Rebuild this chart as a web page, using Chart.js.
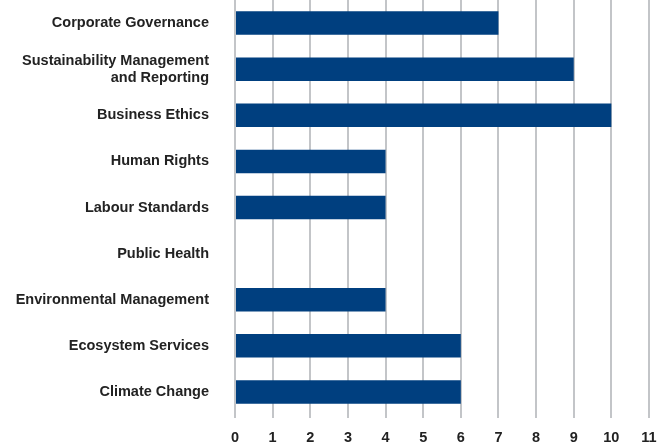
<!DOCTYPE html>
<html>
<head>
<meta charset="utf-8">
<script src="https://cdn.jsdelivr.net/npm/chart.js@4"></script>
<style>
  html, body { margin: 0; padding: 0; background: #fff; }
  #wrap { width: 669px; height: 448px; position: relative; }
</style>
</head>
<body>
<div id="wrap"><canvas id="topics-chart"></canvas></div>
<script>
// Categories (top to bottom) and counts
const categories = [
  'Corporate Governance',
  ['Sustainability Management', 'and Reporting'],
  'Business Ethics',
  'Human Rights',
  'Labour Standards',
  'Public Health',
  'Environmental Management',
  'Ecosystem Services',
  'Climate Change'
];
const counts = [7, 9, 10, 4, 4, 0, 4, 6, 6];
const xTicks = [0, 1, 2, 3, 4, 5, 6, 7, 8, 9, 10, 11];

const labelFont = { family: '"Liberation Sans", Arial, sans-serif', size: 14.5, weight: 'bold', lineHeight: 1.15 };

const ctx = document.getElementById('topics-chart');
new Chart(ctx, {
  type: 'bar',
  data: {
    labels: categories,
    datasets: [{
      data: counts,
      backgroundColor: '#003f7f',
      borderWidth: 0,
      barPercentage: 0.51,
      categoryPercentage: 1
    }]
  },
  options: {
    indexAxis: 'y',
    responsive: true,
    maintainAspectRatio: false,
    animation: false,
    layout: { padding: { top: 0, right: 20, bottom: 0, left: 0 } },
    plugins: {
      legend: { display: false },
      tooltip: { enabled: false }
    },
    scales: {
      x: {
        min: xTicks[0],
        max: xTicks[xTicks.length - 1],
        afterBuildTicks: (scale) => {
          scale.ticks = xTicks.map(v => ({ value: v }));
        },
        grid: { color: '#c3c5c8', lineWidth: 2, tickLength: 3, drawTicks: true },
        border: { display: false },
        ticks: { color: '#222', font: labelFont, padding: 12, maxRotation: 0 },
        afterFit: (scale) => { scale.height = 33; }
      },
      y: {
        // invisible tick marks push the labels away from the plot
        grid: { drawOnChartArea: false, drawTicks: true, tickLength: 26, color: 'rgba(0,0,0,0)' },
        border: { display: false },
        ticks: { color: '#222', font: labelFont, padding: 0, autoSkip: false },
        afterFit: (scale) => {
          scale.width = 235;
          scale.paddingTop = 0;
          scale.paddingBottom = 0;
        }
      }
    }
  }
});
</script>
</body>
</html>
